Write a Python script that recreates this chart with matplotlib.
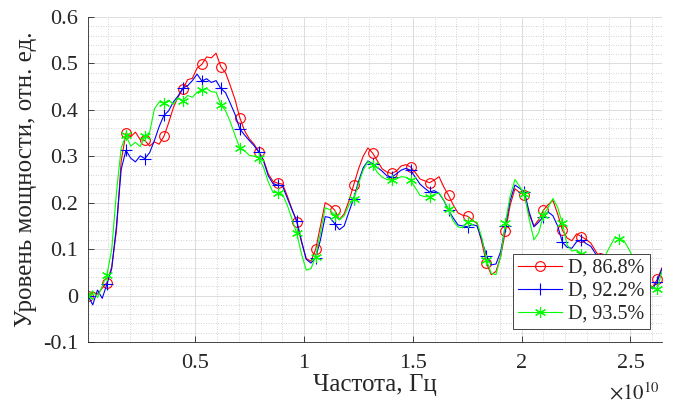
import numpy as np
import matplotlib
matplotlib.use('Agg')
import matplotlib.pyplot as plt
from matplotlib.ticker import MultipleLocator, FuncFormatter

# Frequency grid (units of 1e10 Hz)
f_start_e10 = 0.007
f_step_e10 = 0.0218

power_red = [
    0.000, 0.008, 0.003, 0.016, 0.028, 0.062, 0.140, 0.290, 0.350, 0.342,
    0.352, 0.336, 0.334, 0.322, 0.331, 0.326, 0.343, 0.372, 0.405, 0.428,
    0.445, 0.465, 0.468, 0.490, 0.498, 0.514, 0.512, 0.522, 0.493, 0.480,
    0.452, 0.422, 0.383, 0.355, 0.338, 0.326, 0.310, 0.292, 0.262, 0.246,
    0.242, 0.240, 0.215, 0.186, 0.159, 0.115, 0.080, 0.074, 0.100, 0.150,
    0.200, 0.194, 0.184, 0.164, 0.176, 0.204, 0.238, 0.272, 0.300, 0.318,
    0.307, 0.290, 0.273, 0.266, 0.263, 0.268, 0.279, 0.282, 0.277, 0.265,
    0.251, 0.247, 0.243, 0.249, 0.256, 0.234, 0.216, 0.195, 0.178, 0.173,
    0.171, 0.163, 0.155, 0.115, 0.070, 0.045, 0.052, 0.085, 0.139, 0.195,
    0.230, 0.222, 0.216, 0.175, 0.150, 0.163, 0.184, 0.196, 0.205, 0.176,
    0.141, 0.124, 0.118, 0.133, 0.127, 0.121, 0.113, 0.096, 0.080, 0.072,
    0.062, 0.066, 0.060, 0.056, 0.050, 0.046, 0.040, 0.034, 0.026, 0.018,
    0.035, 0.060,
]

power_blue = [
    0.000, -0.020, 0.012, -0.006, 0.025, 0.058, 0.150, 0.272, 0.313, 0.296,
    0.288, 0.301, 0.295, 0.308, 0.334, 0.364, 0.388, 0.398, 0.417, 0.430,
    0.447, 0.452, 0.463, 0.477, 0.462, 0.467, 0.459, 0.463, 0.446, 0.437,
    0.414, 0.390, 0.359, 0.346, 0.334, 0.323, 0.309, 0.290, 0.258, 0.241,
    0.238, 0.236, 0.210, 0.185, 0.161, 0.118, 0.078, 0.070, 0.082, 0.120,
    0.170, 0.168, 0.155, 0.142, 0.150, 0.180, 0.209, 0.245, 0.275, 0.290,
    0.284, 0.276, 0.268, 0.258, 0.255, 0.262, 0.270, 0.274, 0.270, 0.255,
    0.240, 0.231, 0.223, 0.226, 0.220, 0.205, 0.184, 0.167, 0.152, 0.150,
    0.148, 0.153, 0.150, 0.120, 0.086, 0.066, 0.068, 0.095, 0.150, 0.205,
    0.238, 0.231, 0.223, 0.180, 0.148, 0.158, 0.170, 0.180, 0.172, 0.150,
    0.115, 0.104, 0.102, 0.116, 0.120, 0.112, 0.106, 0.090, 0.078, 0.070,
    0.064, 0.060, 0.058, 0.055, 0.048, 0.044, 0.038, 0.030, 0.022, 0.015,
    0.030, 0.058,
]

power_green = [
    0.000, 0.010, -0.004, 0.020, 0.045, 0.100, 0.222, 0.318, 0.345, 0.322,
    0.330, 0.321, 0.343, 0.352, 0.402, 0.417, 0.414, 0.421, 0.412, 0.426,
    0.420, 0.431, 0.427, 0.438, 0.443, 0.446, 0.439, 0.438, 0.411, 0.398,
    0.374, 0.345, 0.318, 0.312, 0.302, 0.300, 0.297, 0.276, 0.245, 0.222,
    0.222, 0.218, 0.195, 0.165, 0.134, 0.090, 0.055, 0.058, 0.084, 0.135,
    0.189, 0.185, 0.172, 0.163, 0.172, 0.195, 0.207, 0.240, 0.270, 0.289,
    0.282, 0.265, 0.255, 0.250, 0.248, 0.251, 0.256, 0.255, 0.248, 0.232,
    0.216, 0.213, 0.213, 0.218, 0.221, 0.205, 0.186, 0.160, 0.148, 0.146,
    0.159, 0.160, 0.158, 0.125, 0.077, 0.048, 0.045, 0.085, 0.157, 0.215,
    0.250, 0.235, 0.218, 0.165, 0.120, 0.135, 0.173, 0.190, 0.209, 0.190,
    0.156, 0.109, 0.096, 0.098, 0.090, 0.085, 0.082, 0.070, 0.075, 0.086,
    0.105, 0.124, 0.122, 0.118, 0.100, 0.080, 0.060, 0.045, 0.030, 0.015,
    0.014, 0.052,
]

labels = ['D, 86.8%', 'D, 92.2%', 'D, 93.5%']
colors = ['#ff0000', '#0000ff', '#00ff00']
markers = ['o', '+', (6, 2, 0)]
msizes = [7, 8, 8]

plt.rcParams['font.family'] = ['Liberation Serif', 'DejaVu Serif']
plt.rcParams['mathtext.fontset'] = 'stix'
plt.rcParams['axes.unicode_minus'] = False

W, H = 675, 403
fig = plt.figure(figsize=(W / 100, H / 100), dpi=100)
ax = fig.add_axes([88 / W, 1 - 342 / H, (662 - 88) / W, (342 - 17) / H])

for series, c, m, ms, lab in zip([power_red, power_blue, power_green], colors, markers, msizes, labels):
    freq = (f_start_e10 + f_step_e10 * np.arange(len(series))) * 1e10
    ax.plot(freq, series, color=c, lw=0.8, marker=m, markevery=4, markersize=ms,
            markerfacecolor='none', markeredgecolor=c, markeredgewidth=0.8, label=lab)

freq_all = (f_start_e10 + f_step_e10 * np.arange(len(power_red))) * 1e10
ax.set_xlim(freq_all[0], freq_all[-1])
ax.set_ylim(-0.1, 0.6)
ax.xaxis.set_major_locator(MultipleLocator(0.5e10))
ax.xaxis.set_minor_locator(MultipleLocator(0.1e10))
ax.yaxis.set_major_locator(MultipleLocator(0.1))
ax.yaxis.set_minor_locator(MultipleLocator(0.02))
ax.xaxis.set_major_formatter(FuncFormatter(lambda v, p: f'{v / 1e10:g}'))
ax.yaxis.set_major_formatter(FuncFormatter(lambda v, p: '0' if abs(v) < 1e-9 else f'{v:.1f}'))

ax.set_axisbelow(True)
ax.grid(which='major', color='#dcdcdc', lw=0.7, ls='-')
ax.grid(which='minor', color='#c4c4c4', lw=0.6, ls=(0, (1, 2)))

for s in ['top', 'right']:
    ax.spines[s].set_visible(False)
for s in ['left', 'bottom']:
    ax.spines[s].set_color('#262626')
    ax.spines[s].set_linewidth(0.6)

ax.tick_params(which='major', direction='in', length=4, width=0.6, color='#262626',
               labelsize=16, labelcolor='#262626')
ax.tick_params(axis='x', which='major', pad=9)
ax.tick_params(axis='y', which='major', pad=7)
ax.tick_params(which='minor', length=0)

ax.set_xlabel('Частота, Гц', fontsize=18, labelpad=0, color='#262626')
ax.set_ylabel('Уровень мощности, отн. ед.', fontsize=18, labelpad=4, color='#262626')

fig.text(660 / W, 1 - 399 / H, r'$\times10^{10}$', ha='right', va='baseline',
         fontsize=15, color='#262626')

leg = ax.legend(loc='lower right', bbox_to_anchor=(0.979, 0.04), borderaxespad=0,
                fontsize=14.5, handlelength=2.2, labelspacing=0.2, handletextpad=0.3,
                borderpad=0.25, fancybox=False, framealpha=1, edgecolor='#262626',
                numpoints=1)
leg.get_frame().set_linewidth(0.6)
for t in leg.get_texts():
    t.set_color('#262626')

fig.savefig('out.png', dpi=100)
